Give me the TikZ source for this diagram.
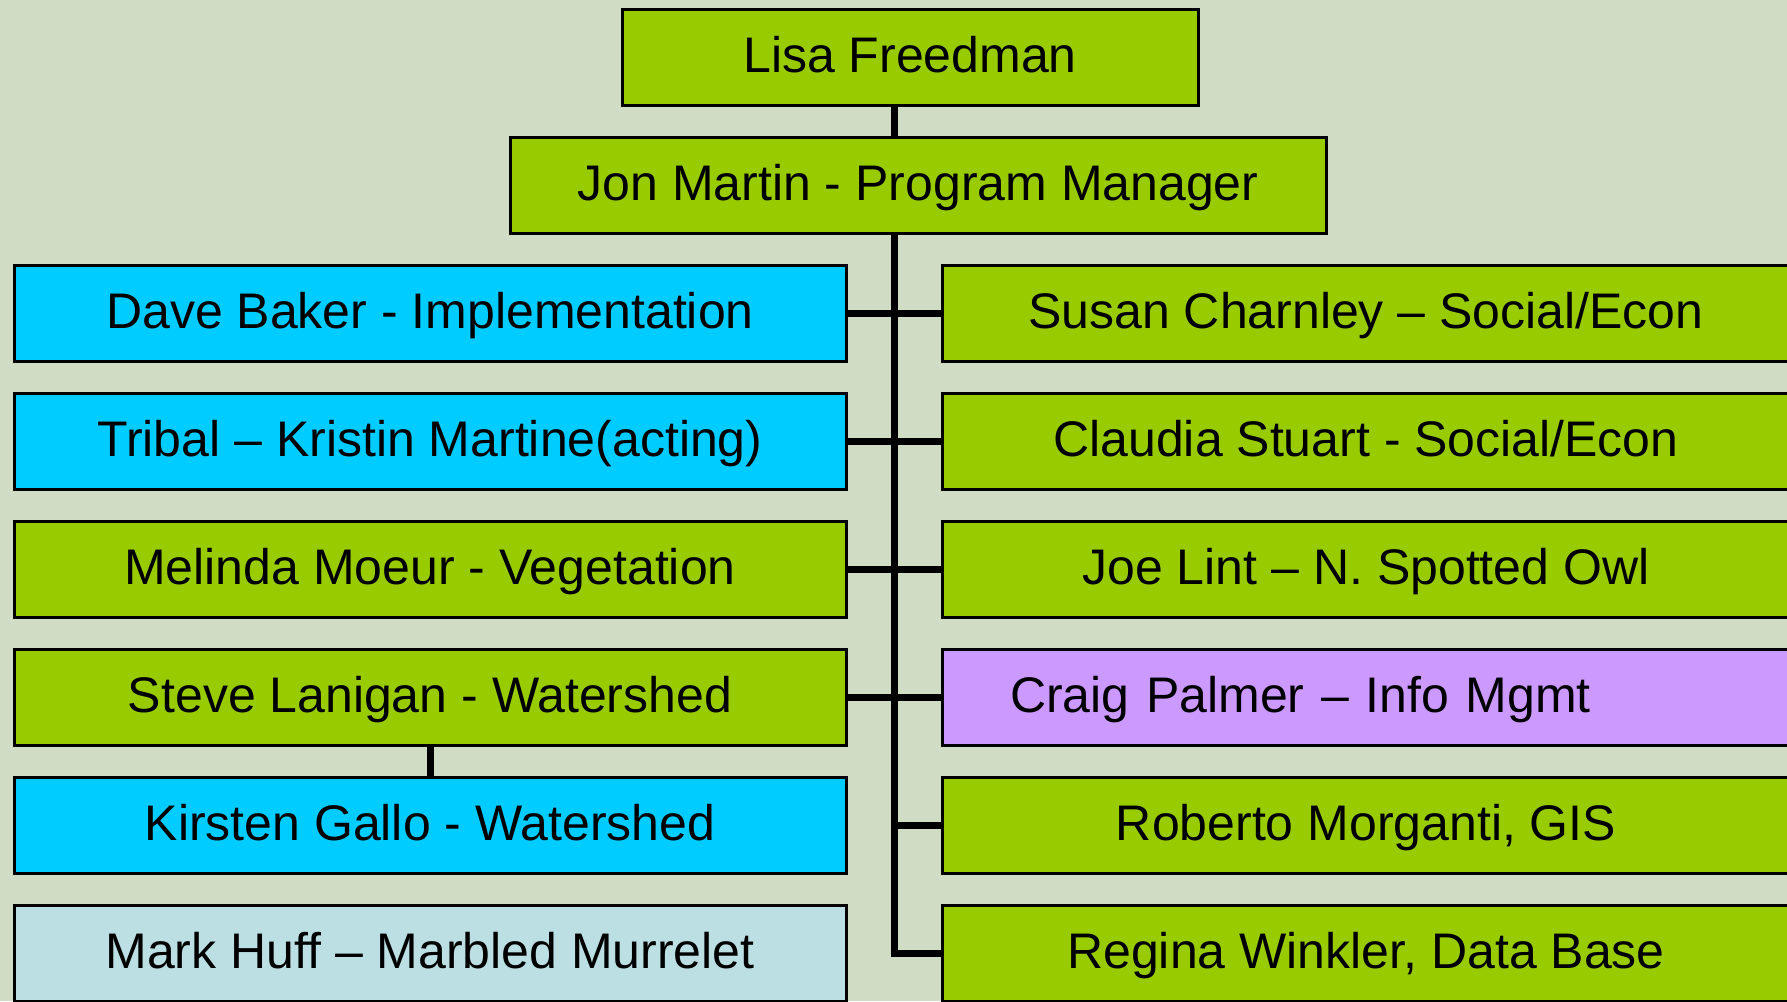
\documentclass[tikz,border=0pt]{standalone}
\usepackage{fontspec}
\setmainfont{Liberation Sans}
\usetikzlibrary{backgrounds}
\definecolor{bgc}{HTML}{D0DCC4}
\definecolor{grn}{HTML}{99CC00}
\definecolor{cyn}{HTML}{00CCFF}
\definecolor{prp}{HTML}{CC99FF}
\definecolor{lbl}{HTML}{BBDFE3}
\begin{document}
\begin{tikzpicture}[x=1pt,y=-1pt,
  box/.style={draw=black, line width=3pt, minimum height=96pt, inner sep=0pt,
    font=\fontsize{50}{60}\selectfont, text height=36pt, text depth=5pt},
  lbox/.style={box, minimum width=832pt},
  rbox/.style={box, minimum width=848pt},
  link/.style={line width=7pt, draw=black}]
\useasboundingbox (0,0) rectangle (1787,1001);
\clip (0,0) rectangle (1787,1001);
% top
\node[box, fill=grn, minimum width=576pt] (lisa) at (910,57) {Lisa Freedman};
\node[box, fill=grn, minimum width=816pt] (jon) at (918,185) {Jon Martin - Program Manager};
% left column
\node[lbox, fill=cyn] (dave) at (430,313) {Dave Baker - Implementation};
\node[lbox, fill=cyn] (tribal) at (430,441) {Tribal – Kristin Martine(acting)};
\node[lbox, fill=grn] (melinda) at (430,569) {Melinda Moeur - Vegetation};
\node[lbox, fill=grn] (steve) at (430,697) {Steve Lanigan - Watershed};
\node[lbox, fill=cyn] (kirsten) at (430,825) {Kirsten Gallo - Watershed};
\node[lbox, fill=lbl] (mark) at (430,953) {Mark Huff – Marbled Murrelet};
% right column
\node[rbox, fill=grn] (susan) at (1366,313) {Susan Charnley – Social/Econ};
\node[rbox, fill=grn] (claudia) at (1366,441) {Claudia Stuart - Social/Econ};
\node[rbox, fill=grn] (joe) at (1366,569) {Joe Lint – N. Spotted Owl};
\node[rbox, fill=prp, text width=712pt, align=left] (craig) at (1366,697) {Craig Palmer – Info Mgmt};
\node[rbox, fill=grn] (roberto) at (1366,825) {Roberto Morganti, GIS};
\node[rbox, fill=grn] (regina) at (1366,953) {Regina Winkler, Data Base};
\coordinate (ttop) at (894,105);
\begin{scope}[on background layer]
\fill[bgc] (0,0) rectangle (1787,1001);
\draw[link] (ttop) |- (regina.west);
\draw[link] (dave.east) -- (susan.west);
\draw[link] (tribal.east) -- (claudia.west);
\draw[link] (melinda.east) -- (joe.west);
\draw[link] (steve.east) -- (craig.west);
\draw[link] (ttop |- roberto.west) -- (roberto.west);
\draw[link] (steve.south) -- (kirsten.north);
\end{scope}
\end{tikzpicture}
\end{document}
